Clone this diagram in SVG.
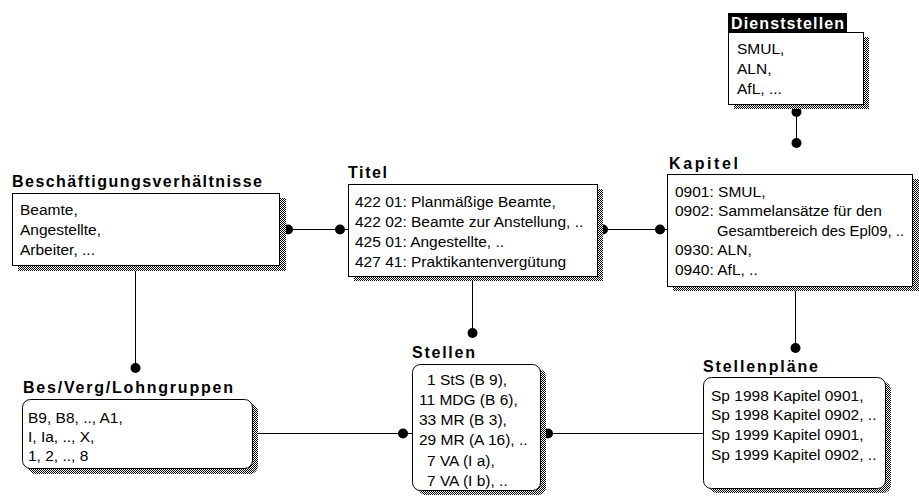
<svg xmlns="http://www.w3.org/2000/svg" width="919" height="500" viewBox="0 0 919 500">
<defs>
<pattern id="dither" width="2" height="2" patternUnits="userSpaceOnUse">
<rect width="2" height="2" fill="#fff"/>
<rect width="1" height="1" fill="#000"/>
<rect x="1" y="1" width="1" height="1" fill="#000"/>
</pattern>
<style>
.box{fill:#fff;stroke:#000;stroke-width:1}
.shadow{fill:url(#dither);stroke:none}
.title{font-family:"Liberation Sans",Arial,sans-serif;font-weight:bold;font-size:16px;fill:#000}
.t{font-family:"Liberation Sans",Arial,sans-serif;font-size:15.5px;fill:#000}
.line{stroke:#000;stroke-width:1;fill:none}
.dot{fill:#000}
</style>
</defs>
<rect width="919" height="500" fill="#fff"/>

<g id="connectors">
<line class="line" x1="279" y1="229.5" x2="348" y2="229.5"/>
<line class="line" x1="597" y1="229.5" x2="667" y2="229.5"/>
<line class="line" x1="796.5" y1="104" x2="796.5" y2="143"/>
<line class="line" x1="135.5" y1="266" x2="135.5" y2="368"/>
<line class="line" x1="472.5" y1="277" x2="472.5" y2="333"/>
<line class="line" x1="795.5" y1="287" x2="795.5" y2="348"/>
<line class="line" x1="252" y1="433.5" x2="412" y2="433.5"/>
<line class="line" x1="540" y1="433.5" x2="703" y2="433.5"/>
<circle class="dot" cx="288" cy="229.5" r="5"/>
<circle class="dot" cx="340" cy="229.5" r="5"/>
<circle class="dot" cx="603" cy="229.5" r="5"/>
<circle class="dot" cx="660" cy="229.5" r="5"/>
<circle class="dot" cx="796.5" cy="112" r="5"/>
<circle class="dot" cx="796.5" cy="143" r="5"/>
<circle class="dot" cx="135.5" cy="368" r="5"/>
<circle class="dot" cx="472.5" cy="333" r="5"/>
<circle class="dot" cx="795.5" cy="348" r="5"/>
<circle class="dot" cx="403" cy="433.5" r="5"/>
<circle class="dot" cx="548" cy="433.5" r="5"/>
</g>

<g id="beschaeftigungsverhaeltnisse">
<rect class="shadow" x="18" y="198" width="268" height="73"/>
<rect class="box" x="12.5" y="193.5" width="267" height="72"/>
<text class="title" x="12" y="187" textLength="250" lengthAdjust="spacing">Beschäftigungsverhältnisse</text>
<text class="t" x="20" y="215">Beamte,</text>
<text class="t" x="20" y="235">Angestellte,</text>
<text class="t" x="20" y="255">Arbeiter, ...</text>
</g>

<g id="titel">
<rect class="shadow" x="354" y="189" width="249" height="92"/>
<rect class="box" x="348.5" y="184.5" width="249" height="92"/>
<text class="title" x="348" y="178" textLength="39" lengthAdjust="spacing">Titel</text>
<text class="t" x="355" y="207">422 01: Planmäßige Beamte,</text>
<text class="t" x="355" y="227">422 02: Beamte zur Anstellung, ..</text>
<text class="t" x="355" y="247">425 01: Angestellte, ..</text>
<text class="t" x="355" y="267">427 41: Praktikantenvergütung</text>
</g>

<g id="dienststellen">
<rect class="shadow" x="734" y="37" width="135" height="72"/>
<rect class="box" x="728.5" y="32.5" width="135" height="72"/>
<rect x="728" y="13" width="119" height="20" fill="#000"/>
<text class="title" x="731" y="29" textLength="113" lengthAdjust="spacing" style="fill:#fff">Dienststellen</text>
<text class="t" x="737" y="54">SMUL,</text>
<text class="t" x="737" y="74">ALN,</text>
<text class="t" x="737" y="94">AfL, ...</text>
</g>

<g id="kapitel">
<rect class="shadow" x="673" y="179" width="246" height="112"/>
<rect class="box" x="667.5" y="174.5" width="245" height="112"/>
<text class="title" x="669" y="169" textLength="69" lengthAdjust="spacing">Kapitel</text>
<text class="t" x="675" y="197">0901: SMUL,</text>
<text class="t" x="675" y="216">0902: Sammelansätze für den</text>
<text class="t" x="717" y="236" textLength="187" lengthAdjust="spacingAndGlyphs">Gesamtbereich des Epl09, ..</text>
<text class="t" x="675" y="255">0930: ALN,</text>
<text class="t" x="675" y="275">0940: AfL, ..</text>
</g>

<g id="besverglohngruppen">
<rect class="shadow" x="28" y="404" width="230" height="70" rx="8"/>
<rect class="box" x="22.5" y="399.5" width="230" height="69" rx="8"/>
<text class="title" x="23" y="393" textLength="210" lengthAdjust="spacing">Bes/Verg/Lohngruppen</text>
<text class="t" x="28" y="423">B9, B8, .., A1,</text>
<text class="t" x="28" y="442">I, Ia, .., X,</text>
<text class="t" x="28" y="461">1, 2, .., 8</text>
</g>

<g id="stellen">
<rect class="shadow" x="418" y="369" width="128" height="126" rx="8"/>
<rect class="box" x="412.5" y="364.5" width="128" height="126" rx="8"/>
<text class="title" x="412" y="358" textLength="63" lengthAdjust="spacing">Stellen</text>
<text class="t" x="427" y="385">1 StS (B 9),</text>
<text class="t" x="419" y="405">11 MDG (B 6),</text>
<text class="t" x="419" y="425">33 MR (B 3),</text>
<text class="t" x="419" y="445">29 MR (A 16), ..</text>
<text class="t" x="427" y="466">7 VA (I a),</text>
<text class="t" x="427" y="486">7 VA (I b), ..</text>
</g>

<g id="stellenplaene">
<rect class="shadow" x="709" y="382" width="182" height="111" rx="8"/>
<rect class="box" x="703.5" y="377.5" width="182" height="111" rx="8"/>
<text class="title" x="703" y="372" textLength="115" lengthAdjust="spacing">Stellenpläne</text>
<text class="t" x="711" y="401">Sp 1998 Kapitel 0901,</text>
<text class="t" x="711" y="420">Sp 1998 Kapitel 0902, ..</text>
<text class="t" x="711" y="440">Sp 1999 Kapitel 0901,</text>
<text class="t" x="711" y="460">Sp 1999 Kapitel 0902, ..</text>
</g>
</svg>
